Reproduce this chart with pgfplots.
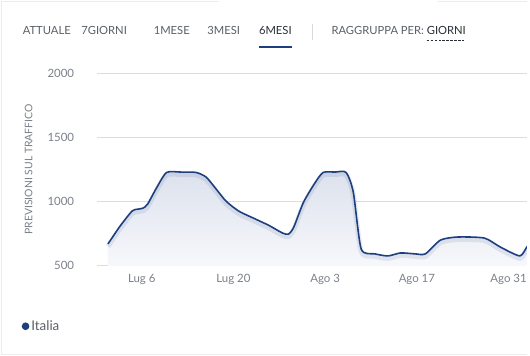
\documentclass[border=0pt]{standalone}
\usepackage{pgfplots}
\pgfplotsset{compat=1.18}
\usepackage{fontspec}
\setmainfont{Lato}
\definecolor{navy}{HTML}{1D3F7F}
\definecolor{gridc}{HTML}{DADDE3}
\definecolor{tickc}{HTML}{7B8089}
\definecolor{navc}{HTML}{5B6068}
\definecolor{darkc}{HTML}{2B2F3A}
\definecolor{filltop}{HTML}{DCE1ED}
\definecolor{fillbot}{HTML}{F7F8FB}
\pgfplotstableread{
x y
-5.15 670
-3.3 809
-1.5 925
-0.75 940
0.15 948
0.9 980
2.3 1110
3.8 1227
6.0 1230
8.3 1227
9.85 1190
11.4 1095
12.9 1002
14.85 925
17.4 863
19.4 815
21.5 755
22.4 747
23.2 800
24.7 995
26.5 1150
27.7 1227
29.5 1230
31.2 1227
32.3 1072
33.5 631
35.6 593
37.6 577
39.5 600
41.7 593
43.3 593
45.6 700
48.2 724
52.3 716
54.7 647
57.7 577
58.8 647
60.0 720
}\traffic
\begin{document}
\begin{tikzpicture}[x=1pt,y=1pt]
\fill[white] (0,0) rectangle (530,357);
\draw[gray!15, line width=1.5pt] (0.75,0) -- (0.75,357);
\draw[gray!15, line width=1.5pt] (0,356.25) -- (220,356.25);
\draw[gray!15, line width=1.5pt] (440,356.25) -- (530,356.25);
\draw[gray!15, line width=1.5pt] (0,0.75) -- (530,0.75);
% top navigation
\begin{scope}[every node/.style={anchor=base west, inner sep=0pt, font=\fontsize{11.3}{14}\selectfont}]
\node[text=navc] at (22,323) {ATTUALE};
\node[text=navc] at (81,323) {7GIORNI};
\node[text=navc] at (154,323) {1MESE};
\node[text=navc] at (208,323) {3MESI};
\node[text=darkc] at (260,323) {6MESI};
\node[text=navc] at (333,323) {RAGGRUPPA PER:};
\node[text=darkc] at (429,323) {GIORNI};
\end{scope}
\draw[navy, line width=2pt] (260,310) -- (293,310);
\draw[gray!30, line width=0.8pt] (314,334) -- (314,317);
\draw[darkc, line width=0.6pt, dash pattern=on 2.5pt off 1.5pt] (429,317.5) -- (467,317.5);
% y label
\node[rotate=90, text=tickc, font=\fontsize{10.5}{12}\selectfont] at (28,187) {PREVISIONI SUL TRAFFICO};
\begin{axis}[
  at={(97pt,90pt)}, anchor=south west,
  scale only axis, width=433pt, height=194pt,
  xmin=-6.82, xmax=58.79, ymin=500, ymax=2000,
  ytick={500,1000,1500,2000},
  xtick={0,14,28,42,56},
  xticklabels={Lug 6,Lug 20,Ago 3,Ago 17,Ago 31},
  ymajorgrids, grid style={gridc, line width=0.7pt},
  axis line style={draw=none}, tick style={draw=none},
  ticklabel style={text=tickc, font=\fontsize{11.5}{13}\selectfont},
  yticklabel style={anchor=east, inner xsep=23pt},
  xticklabel style={anchor=north, inner ysep=8pt},
  /pgf/number format/assume math mode=true,
  /pgf/number format/1000 sep={},
  legend style={at={(rel axis cs:-0.1755,-0.314)}, anchor=west, draw=none, fill=none, inner sep=0pt,
    font=\fontsize{13.5}{16}\selectfont, text=navc, cells={anchor=west}},
  legend image code/.code={\fill[navy] (3pt,0pt) circle (3pt);},
]
\addplot[draw=none, top color=filltop, bottom color=fillbot, smooth, tension=0.4, forget plot] table[x=x,y=y] {\traffic} \closedcycle;
\addplot[navy, opacity=0.10, line width=5pt, smooth, tension=0.4, yshift=-2.5pt, forget plot] table[x=x,y=y] {\traffic};
\addplot[navy, line width=1.6pt, smooth, tension=0.4] table[x=x,y=y] {\traffic};
\legend{Italia}
\end{axis}
\end{tikzpicture}
\end{document}
